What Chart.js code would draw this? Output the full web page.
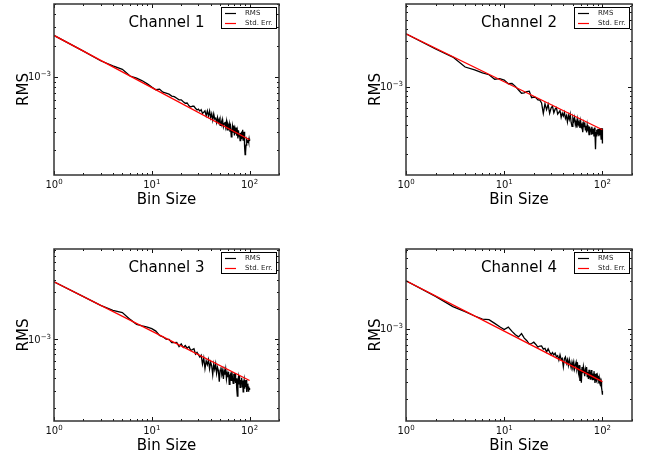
<!DOCTYPE html>
<html>
<head>
<meta charset="utf-8">
<title>RMS vs bin size</title>
<script src="https://cdn.jsdelivr.net/npm/chart.js@4.4.1/dist/chart.umd.min.js"></script>
<style>
  html, body { margin: 0; padding: 0; background: #fff; }
  body { width: 646px; height: 457px; position: relative; overflow: hidden; }
  .panel { position: absolute; }
  .panel canvas { display: block; }
</style>
</head>
<body>
<div class="panel" style="left:0;top:0"><canvas id="ch1" width="300" height="215"></canvas></div>
<div class="panel" style="left:352px;top:0"><canvas id="ch2" width="300" height="215"></canvas></div>
<div class="panel" style="left:0;top:245px"><canvas id="ch3" width="300" height="212"></canvas></div>
<div class="panel" style="left:352px;top:245px"><canvas id="ch4" width="300" height="212"></canvas></div>
<script>
// Bin sizes used for the RMS curves
const binSizes = [
  1, 2, 3, 4, 5, 6, 7, 8, 9, 10,
  11, 12, 13, 14, 15, 16, 17, 18, 19, 20,
  21, 22, 23, 24, 25, 26, 27, 28, 29, 30,
  31, 32, 33, 34, 35, 36, 37, 38, 39, 40,
  41, 42, 43, 44, 45, 46, 47, 48, 49, 50,
  51, 52, 53, 54, 55, 56, 57, 58, 59, 60,
  61, 62, 63, 64, 65, 66, 67, 68, 69, 70,
  71, 72, 73, 74, 75, 76, 77, 78, 79, 80,
  81, 82, 83, 84, 85, 86, 87, 88, 89, 90,
  91, 92, 93, 94, 95, 96, 97, 98, 99, 100
];

// RMS of each channel per bin size, in units of 1e-4
const rms1 = [
  25.0, 17.68, 14.29, 12.75, 11.85, 10.21, 9.73, 9.19, 8.58, 7.99,
  7.54, 7.65, 7.15, 7.01, 6.84, 6.56, 6.48, 6.24, 6.03, 6.04,
  5.79, 5.60, 5.63, 5.30, 5.15, 5.24, 5.24, 5.01, 4.83, 4.92,
  4.71, 4.86, 4.48, 4.59, 4.74, 4.25, 4.73, 4.22, 4.72, 4.07,
  4.45, 3.86, 4.42, 3.96, 4.03, 3.65, 4.09, 3.68, 3.93, 3.43,
  3.82, 3.50, 3.88, 3.33, 3.57, 3.71, 3.31, 3.74, 3.12, 3.49,
  3.26, 3.56, 2.99, 3.29, 2.67, 2.93, 3.36, 2.97, 3.43, 2.75,
  3.15, 2.86, 3.28, 2.74, 3.01, 2.58, 3.08, 2.72, 2.87, 2.46,
  2.92, 2.57, 3.01, 2.65, 3.12, 2.48, 2.79, 2.98, 2.12, 1.80,
  1.89, 2.22, 2.33, 2.48, 2.36, 2.42, 2.49, 2.38, 2.56, 2.43
];
const rms2 = [
  35.8, 24.80, 20.46, 16.11, 15.05, 14.04, 13.39, 12.03, 12.17, 11.77,
  10.79, 10.85, 10.13, 9.28, 8.59, 8.68, 8.94, 9.03, 7.72, 7.85,
  7.73, 7.32, 7.31, 6.80, 5.30, 6.67, 5.79, 6.57, 5.32, 6.02,
  6.30, 5.38, 5.86, 6.08, 5.20, 5.43, 5.65, 4.82, 5.33, 4.98,
  5.42, 4.69, 5.02, 4.32, 5.07, 4.59, 5.17, 4.29, 3.88, 4.76,
  4.41, 4.81, 4.03, 4.38, 3.77, 4.59, 4.08, 4.32, 3.73, 4.39,
  3.85, 4.05, 3.38, 4.17, 3.86, 4.28, 3.58, 3.95, 3.36, 4.02,
  3.61, 3.71, 3.18, 3.87, 3.47, 3.70, 3.22, 3.85, 3.47, 3.24,
  3.66, 3.04, 3.77, 3.25, 2.25, 3.40, 3.57, 3.06, 3.41, 3.20,
  3.64, 3.06, 3.38, 3.17, 3.74, 3.21, 2.87, 3.44, 3.71, 2.58
];
const rms3 = [
  38.1, 26.94, 22.00, 19.62, 18.57, 15.86, 14.11, 13.60, 13.21, 12.77,
  12.06, 10.89, 10.57, 9.98, 9.94, 9.24, 9.24, 9.25, 8.39, 8.95,
  8.23, 8.61, 8.10, 8.40, 7.70, 7.84, 7.99, 7.06, 7.36, 6.96,
  6.57, 6.87, 5.57, 6.46, 5.02, 6.03, 5.51, 6.18, 5.00, 5.84,
  5.36, 4.35, 5.58, 4.94, 5.62, 4.50, 5.17, 4.79, 3.70, 4.85,
  5.18, 4.38, 4.81, 3.94, 4.83, 4.38, 4.95, 3.95, 4.51, 4.13,
  4.68, 3.48, 4.27, 4.43, 3.83, 4.64, 3.95, 3.56, 4.45, 4.00,
  4.52, 3.59, 4.01, 3.10, 2.64, 3.76, 4.12, 3.53, 4.25, 3.24,
  3.85, 3.54, 4.05, 3.29, 3.80, 2.92, 3.59, 3.86, 3.15, 3.62,
  3.27, 3.85, 2.92, 3.42, 3.13, 3.54, 2.98, 3.31, 3.10, 3.20
];
const rms4 = [
  30.0, 21.00, 16.63, 14.85, 13.42, 12.50, 12.36, 11.35, 10.50, 9.87,
  10.41, 9.44, 8.74, 8.34, 8.99, 8.10, 7.64, 7.07, 7.16, 7.38,
  7.01, 6.59, 6.76, 6.79, 6.30, 6.41, 5.89, 6.35, 5.90, 5.53,
  5.82, 5.51, 5.74, 5.29, 5.42, 4.90, 5.52, 4.97, 5.09, 4.22,
  5.07, 5.28, 4.57, 4.97, 4.34, 4.99, 4.56, 4.11, 4.68, 4.28,
  4.70, 3.99, 4.37, 4.69, 4.01, 4.33, 3.69, 4.37, 3.05, 3.95,
  2.92, 4.19, 3.63, 4.24, 3.83, 3.39, 3.93, 3.57, 4.19, 3.37,
  3.74, 3.19, 3.93, 3.39, 3.53, 3.13, 3.90, 3.37, 3.14, 3.62,
  3.16, 3.81, 3.32, 2.91, 3.58, 3.11, 3.64, 3.01, 3.37, 3.10,
  3.42, 2.88, 3.23, 3.00, 3.11, 2.91, 3.02, 2.61, 2.42, 2.22
];

// Standard error reference lines (units of 1e-4)
const stdErrBins = [1, 10, 100];
const stdErr1 = [25.0, 7.91, 2.50];
const stdErr2 = [35.8, 11.32, 3.58];
const stdErr3 = [38.1, 12.05, 3.81];
const stdErr4 = [30.0, 9.49, 3.00];

const UNIT = 1e-4;

// Labelled decades on each axis
const xTickValues = [1, 10, 100];
const xTickExponents = ['0', '1', '2'];
const yTickValues = [1e-3];
const yTickExponents = ['\u22123'];

const FONT = '"DejaVu Sans", "Bitstream Vera Sans", Verdana, sans-serif';

function points(xs, ys) {
  return xs.map((x, i) => ({ x: x, y: ys[i] * UNIT }));
}

function line(ctx, x1, y1, x2, y2) {
  ctx.beginPath();
  ctx.moveTo(x1, y1);
  ctx.lineTo(x2, y2);
  ctx.stroke();
}

// "10" with a raised exponent, mathtext style
function drawPow(ctx, exp, x, y, align) {
  ctx.font = '10px ' + FONT;
  const wb = ctx.measureText('10').width;
  ctx.font = '7px ' + FONT;
  const we = ctx.measureText(exp).width;
  const total = wb + we;
  const x0 = align === 'center' ? x - total / 2 : x - total;
  ctx.textAlign = 'left';
  ctx.textBaseline = 'alphabetic';
  ctx.font = '10px ' + FONT;
  ctx.fillText('10', x0, y);
  ctx.font = '7px ' + FONT;
  ctx.fillText(exp, x0 + wb, y - 4);
}

function logMinorValues(min, max) {
  const out = [];
  for (let d = Math.floor(Math.log10(min)); d <= Math.ceil(Math.log10(max)); d++) {
    for (let m = 1; m < 10; m++) {
      const v = m * Math.pow(10, d);
      if (v >= min * 0.9999 && v <= max * 1.0001) out.push({ v: v, major: m === 1 });
    }
  }
  return out;
}

// Frame, inward ticks, tick labels, axis titles, panel title and legend
const axesDecor = {
  id: 'axesDecor',
  afterDatasetsDraw(chart, args, opts) {
    const { ctx, chartArea: a, scales: { x, y } } = chart;
    ctx.save();

    // inward tick marks on all four sides
    ctx.strokeStyle = '#111';
    ctx.lineWidth = 1;
    logMinorValues(x.min, x.max).forEach(t => {
      const px = Math.round(x.getPixelForValue(t.v)) + 0.5;
      const len = t.major ? 4 : 2;
      line(ctx, px, a.bottom, px, a.bottom - len);
      line(ctx, px, a.top, px, a.top + len);
    });
    logMinorValues(y.min, y.max).forEach(t => {
      const py = Math.round(y.getPixelForValue(t.v)) + 0.5;
      const len = t.major ? 4 : 2;
      line(ctx, a.left, py, a.left + len, py);
      line(ctx, a.right, py, a.right - len, py);
    });

    // axes frame
    ctx.strokeStyle = '#333';
    ctx.lineWidth = 1.5;
    ctx.strokeRect(a.left, a.top, a.right - a.left, a.bottom - a.top);

    // tick labels
    ctx.fillStyle = '#111';
    xTickValues.forEach((v, i) => {
      drawPow(ctx, xTickExponents[i], x.getPixelForValue(v), a.bottom + 13, 'center');
    });
    yTickValues.forEach((v, i) => {
      drawPow(ctx, yTickExponents[i], a.left - 3, y.getPixelForValue(v) + 3.5, 'right');
    });

    // axis titles
    ctx.fillStyle = '#000';
    ctx.font = '15px ' + FONT;
    ctx.textAlign = 'center';
    ctx.textBaseline = 'alphabetic';
    ctx.fillText('Bin Size', (a.left + a.right) / 2, a.bottom + 29);
    ctx.save();
    ctx.translate(a.left - 26, (a.top + a.bottom) / 2);
    ctx.rotate(-Math.PI / 2);
    ctx.fillText('RMS', 0, 0);
    ctx.restore();

    // panel title inside the axes
    ctx.fillText(opts.title, (a.left + a.right) / 2, a.top + 23);

    // legend box, upper right
    const lw = 55, lh = 21;
    const lx = a.right - 58, ly = a.top + 3;
    ctx.fillStyle = '#fff';
    ctx.fillRect(lx, ly, lw, lh);
    ctx.strokeStyle = '#000';
    ctx.lineWidth = 1;
    ctx.strokeRect(lx + 0.5, ly + 0.5, lw, lh);
    ctx.font = '7px ' + FONT;
    ctx.textAlign = 'left';
    ctx.textBaseline = 'middle';
    chart.data.datasets.forEach((ds, i) => {
      const yy = ly + 6.5 + i * 10;
      ctx.strokeStyle = ds.borderColor;
      ctx.lineWidth = 1.2;
      line(ctx, lx + 4, yy, lx + 15, yy);
      ctx.fillStyle = '#222';
      ctx.fillText(ds.label, lx + 24, yy);
    });

    ctx.restore();
  }
};

const panels = [
  { id: 'ch1', title: 'Channel 1', rms: rms1, se: stdErr1, yMin: 1.15e-4, yMax: 5.0e-3, padRight: 21, xAxisH: 40 },
  { id: 'ch2', title: 'Channel 2', rms: rms2, se: stdErr2, yMin: 1.21e-4, yMax: 7.3e-3, padRight: 20, xAxisH: 40 },
  { id: 'ch3', title: 'Channel 3', rms: rms3, se: stdErr3, yMin: 1.48e-4, yMax: 8.2e-3, padRight: 21, xAxisH: 36 },
  { id: 'ch4', title: 'Channel 4', rms: rms4, se: stdErr4, yMin: 1.22e-4, yMax: 6.2e-3, padRight: 20, xAxisH: 36 }
];

panels.forEach(p => {
  new Chart(document.getElementById(p.id), {
    type: 'line',
    data: {
      datasets: [
        {
          label: 'RMS',
          data: points(binSizes, p.rms),
          borderColor: '#000000',
          borderWidth: 1.3,
          pointRadius: 0,
          tension: 0,
          fill: false,
          order: 1
        },
        {
          label: 'Std. Err.',
          data: points(stdErrBins, p.se),
          borderColor: '#ff0000',
          borderWidth: 1.3,
          pointRadius: 0,
          tension: 0,
          fill: false,
          order: 0
        }
      ]
    },
    options: {
      responsive: false,
      animation: false,
      events: [],
      layout: { padding: { top: 4, right: p.padRight, bottom: 0, left: 0 } },
      plugins: {
        legend: { display: false },
        tooltip: { enabled: false },
        axesDecor: { title: p.title }
      },
      scales: {
        x: {
          type: 'logarithmic',
          min: 1,
          max: 200,
          grid: { display: false },
          border: { display: false },
          ticks: { display: false },
          afterFit(scale) { scale.height = p.xAxisH; }
        },
        y: {
          type: 'logarithmic',
          min: p.yMin,
          max: p.yMax,
          grid: { display: false },
          border: { display: false },
          ticks: { display: false },
          afterFit(scale) { scale.width = 54; }
        }
      }
    },
    plugins: [axesDecor]
  });
});
</script>
</body>
</html>
